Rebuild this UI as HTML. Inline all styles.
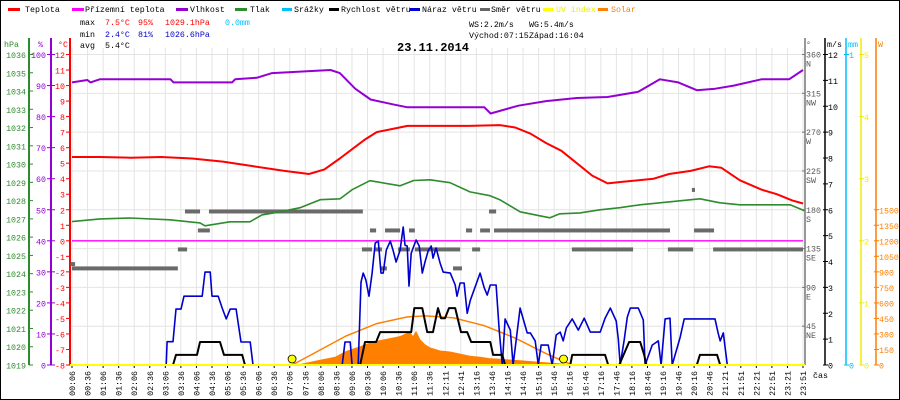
<!DOCTYPE html>
<html><head><meta charset="utf-8"><style>
html,body{margin:0;padding:0;background:#fff}
svg{display:block;font-family:"Liberation Mono","DejaVu Sans Mono",monospace}
</style></head><body>
<svg id="c" width="900" height="400" viewBox="0 0 900 400">
<rect x="0.5" y="0.5" width="899" height="399" fill="#fff" stroke="#000"/>
<g id="grid"></g>
<g id="axes"></g>
<g id="series"></g>
<g id="hdr" font-size="8.3">
 <g>
  <g><rect x="8" y="8" width="12" height="3" fill="#f00"/><text x="25" y="12">Teplota</text></g>
  <g><rect x="72" y="8" width="12" height="3" fill="#f0f"/><text x="85" y="12">Přízemní teplota</text></g>
  <g><rect x="176" y="8" width="12" height="3" fill="#9400d3"/><text x="190" y="12">Vlhkost</text></g>
  <g><rect x="235" y="8" width="12" height="3" fill="#2e8b2e"/><text x="250" y="12">Tlak</text></g>
  <g><rect x="282" y="8" width="10" height="3" fill="#00bfff"/><text x="294" y="12">Srážky</text></g>
  <g><rect x="329" y="8" width="10" height="3" fill="#000"/><text x="341" y="12">Rychlost větru</text></g>
  <g><rect x="410" y="8" width="10" height="3" fill="#0000cd"/><text x="422" y="12">Náraz větru</text></g>
  <g><rect x="480" y="8" width="10" height="3" fill="#666"/><text x="491" y="12">Směr větru</text></g>
  <g><rect x="543" y="8" width="10" height="3" fill="#ff0"/><text x="556" y="12" fill="#ee0">UV index</text></g>
  <g><rect x="598" y="8" width="10" height="3" fill="#ff7f00"/><text x="611" y="12" fill="#ff7f00">Solar</text></g>
 </g>
 <g>
  <text x="80" y="25">max</text><text x="105" y="25" fill="#f00">7.5°C</text><text x="138" y="25" fill="#f00">95%</text><text x="165" y="25" fill="#f00">1029.1hPa</text><text x="225" y="25" fill="#00bfff">0.0mm</text>
  <text x="80" y="37">min</text><text x="105" y="37" fill="#00c">2.4°C</text><text x="138" y="37" fill="#00c">81%</text><text x="165" y="37" fill="#00c">1026.6hPa</text>
  <text x="80" y="48">avg</text><text x="105" y="48">5.4°C</text>
  <text x="469" y="27">WS:2.2m/s</text><text x="529" y="27">WG:5.4m/s</text>
  <text x="469" y="38">Východ:07:15</text><text x="529" y="38">Západ:16:04</text>
 </g>
 <text x="397" y="51" font-size="12" font-weight="bold">23.11.2014</text>
 <text x="813" y="378">čas</text>
</g>
</svg>
<script>
// ---- data (time in hours) ----
const timeLabels=["00:06","00:36","01:06","01:36","02:06","02:36","03:06","03:36","04:06","04:36","05:06","05:36","06:06","06:36","07:06","07:36","08:06","08:36","09:06","09:36","10:06","10:36","11:06","11:36","12:11","12:41","13:16","13:46","14:16","14:46","15:16","15:46","16:16","16:46","17:16","17:46","18:16","18:46","19:16","19:46","20:16","20:46","21:21","21:51","22:21","22:51","23:21","23:51"];
const tempT=[0.1,1,2,3,4,5,6,7,7.8,8.3,8.8,9.2,9.6,10,10.5,11,12,13,14,14.5,15,15.5,16,16.5,17,17.5,18,18.5,19,19.5,20.2,20.8,21.2,21.8,22.5,23,23.5,23.85];
const tempV=[5.4,5.4,5.35,5.4,5.3,5.1,4.8,4.5,4.3,4.6,5.3,5.9,6.5,7.0,7.2,7.4,7.4,7.4,7.45,7.3,6.9,6.3,5.8,5.0,4.2,3.7,3.8,3.9,4.0,4.3,4.5,4.8,4.7,3.9,3.3,3.0,2.6,2.4];
const dewT=[0.1,23.85];
const dewV=[0,0];
const humT=[0.1,0.6,0.7,1.0,3.3,3.4,5.3,5.4,6.1,6.6,8.5,8.8,9.3,9.8,10.5,11,13.5,13.7,14.6,15.5,16.5,17.5,18.5,19.2,19.8,20.4,21.0,21.6,22.5,23.4,23.85];
const humV=[91,91.8,91,92,92,91,91,92,92.5,94,95,94,89,85.5,84,83,83,81,83.5,85,86,86.3,88,92,91,88.5,89,90,92,92,95];
const presT=[0.1,1.01,1.98,3.28,4.26,4.42,5.23,5.88,6.27,6.86,7.51,8.16,8.81,9.2,9.78,10.76,11.2,11.73,12.38,13.03,13.68,14.0,14.66,15.3,15.63,15.95,16.6,17.25,17.9,18.55,19.2,20.5,21.15,21.8,22.78,23.43,23.9];
const presV=[1026.85,1027.0,1027.05,1026.95,1026.78,1026.62,1026.84,1026.84,1027.22,1027.39,1027.61,1028.05,1028.1,1028.6,1029.09,1028.81,1029.1,1029.14,1028.98,1028.48,1028.27,1028.05,1027.39,1027.17,1027.06,1027.28,1027.33,1027.5,1027.61,1027.77,1027.88,1028.1,1027.88,1027.77,1027.77,1027.77,1027.44];
const dirStart=[0.05,0.1,3.54,3.77,4.55,4.19,9.52,9.94,10.69,11.24,13.1,9.78,10.27,11.05,12.9,13.36,13.81,10.11,12.48,13.65,16.41,18.29,20.31,16.34,19.46,20.93,20.24];
const dirEnd=[0.2,3.54,3.84,4.26,9.55,4.58,9.85,10.17,11.08,12.71,13.36,9.98,10.76,11.24,13.1,13.68,16.41,10.33,12.77,13.88,18.29,19.53,20.96,18.33,20.28,23.85,20.34];
const dirV=[117,112,134,178,178,156,134,134,134,134,134,156,156,156,156,156,156,112,112,178,156,156,156,134,134,134,203];
const gustT=[0.1,3.16,3.19,3.38,3.48,3.64,3.74,4.33,4.42,4.59,4.65,4.85,4.98,5.11,5.24,5.43,5.59,5.89,5.98,8.88,8.97,9.14,9.2,9.4,9.49,9.56,9.65,9.75,9.85,9.95,10.05,10.14,10.21,10.31,10.44,10.53,10.63,10.76,10.86,10.92,10.99,11.05,11.12,11.28,11.38,11.48,11.57,11.67,11.77,11.83,11.93,12.06,12.16,12.39,12.55,12.61,12.71,12.84,12.94,13.04,13.36,13.49,13.59,13.69,13.88,13.98,14.08,14.17,14.34,14.43,14.66,14.89,14.99,15.15,15.25,15.34,15.57,15.7,15.83,15.96,16.06,16.16,16.35,16.55,16.74,16.94,17.26,17.42,17.59,17.78,17.85,17.91,18.04,18.14,18.24,18.5,18.66,18.72,18.95,19.15,19.24,19.37,19.53,19.6,19.86,19.99,20.99,21.09,21.16,21.26,21.39,23.85];
const gustV=[0,0,0.9,0.9,2.16,2.16,2.66,2.66,3.59,3.59,2.66,2.66,2.2,1.78,2.16,2.16,0.89,0.89,0,0,0.89,0.89,0,0,3.2,3.55,3.28,2.66,3.55,4.71,4.79,3.55,3.55,4.44,4.79,4.44,3.98,4.44,5.33,4.63,4.6,3.05,4.32,4.83,4.6,3.55,3.98,4.4,4.6,4.13,4.52,3.94,3.59,3.55,3.09,2.66,3.17,3.17,2.0,2.5,3.55,3.0,2.7,3.09,3.09,1.35,0,1.78,1.35,0,2.2,1.24,1.24,0.93,0,0.77,0.77,0,1.16,1.27,0.93,1.43,1.78,1.35,1.81,1.27,1.27,1.81,2.2,1.7,1.0,0,0.97,1.85,2.2,2.2,1.74,0,0.77,0.93,0,1.78,1.81,0,1.08,1.78,1.78,1.24,0.93,1.24,0,0];
const windT=[0.1,3.38,3.48,4.16,4.26,4.91,5.04,5.63,5.72,9.46,9.62,9.98,10.11,11.12,11.22,11.48,11.64,11.83,11.99,12.09,12.22,12.35,12.55,12.74,12.94,13.07,13.36,13.69,13.78,14.08,14.17,16.29,16.35,17.42,17.52,17.88,18.2,18.56,18.69,18.76,20.4,20.5,21.06,21.16,23.85];
const windV=[0,0,0.39,0.39,0.89,0.89,0.39,0.39,0,0,0.89,0.89,1.27,1.27,2.2,2.2,1.27,1.27,2.2,1.81,1.81,2.2,2.2,1.27,1.27,0.89,0.89,0.89,0.39,0.39,0,0,0.39,0.39,0,0,0.89,0.89,0.39,0,0,0.39,0.39,0,0];
const solarT=[7.25,7.51,8.16,8.65,8.97,9.14,9.46,9.62,9.95,10.27,10.6,10.76,10.92,11.08,11.18,11.28,11.41,11.57,11.73,12.06,12.38,12.71,13.03,13.36,13.68,14.01,14.66,15.31,15.96,16.29,16.45];
const solarV=[0,10,50,80,130,150,180,200,230,250,270,280,300,320,280,330,250,200,170,140,130,110,90,80,65,60,45,30,15,5,0];
const solarMaxT=[7.25,8,9,10,11,11.6,12.5,13.5,14.5,15.5,16.35];
const solarMaxV=[0,120,280,400,465,474,455,380,260,110,0];
const sunEvents=[7.25,16.07];
const tempTicks=[12,11,10,9,8,7,6,5,4,3,2,1,0,-1,-2,-3,-4,-5,-6,-7,-8];
const humTicks=[100,90,80,70,60,50,40,30,20,10,0];
const presTicks=[1036,1035,1034,1033,1032,1031,1030,1029,1028,1027,1026,1025,1024,1023,1022,1021,1020,1019];
const dirTicks=[360,315,270,225,180,135,90,45];
const dirNames=["N","NW","W","SW","S","SE","E","NE"];
const wsTicks=[12,11,10,9,8,7,6,5,4,3,2,1,0];
const uvTicks=[5,4,3,2,1,0];
const wTicks=[1500,1350,1200,1050,900,750,600,450,300,150,0];

// ---- scales ----
const X0=72,X1=803,Y0=365,YT=54.5;
const FS=8.3;
const xs=h=>X0+(h-0.1)*(X1-X0)/23.75;
const yTemp=v=>Y0-(v+8)*(Y0-YT)/20;
const yHum=v=>Y0-v*(Y0-YT)/100;
const yPres=v=>Y0-(v-1019)*(Y0-YT)/17;
const yDir=v=>Y0-v*(Y0-YT)/360;
const yWs=v=>Y0-v*(Y0-YT)/12;
const yUv=v=>Y0-v*(Y0-YT)/5;
const yW=v=>Y0-v*(Y0-YT)/3000;
const NS="http://www.w3.org/2000/svg";
function mk(tag,attrs,parent){const e=document.createElementNS(NS,tag);for(const k in attrs)e.setAttribute(k,attrs[k]);parent.appendChild(e);return e;}
const G=document.getElementById('grid'),A=document.getElementById('axes'),S=document.getElementById('series');

timeLabels.forEach((l,i)=>{const x=X0+i*(X1-X0)/47;
 const gl=mk('line',{x1:x,x2:x,y1:48,y2:Y0,stroke:'#e4e4e4'},G);
 
 
 const tk=mk('line',{x1:x,x2:x,y1:Y0,y2:Y0+3,stroke:'#000'},A);
 
 
 const t=mk('text',{x:0,y:0,'font-size':FS,'text-anchor':'end',transform:`translate(${x+3},371) rotate(-90)`},A);
 t.textContent=l;
 
 
});
dirTicks.forEach(d=>{const y=yDir(d);
 const gl=mk('line',{x1:70,x2:805,y1:y,y2:y,stroke:'#e4e4e4'},G);
 
 
});

function vaxis(x,col,ticks,yf,lx,name,tickL,tickR){
 const ln=mk('line',{x1:x,x2:x,y1:38,y2:Y0,stroke:col,'stroke-width':2},A);
 
 
 ticks.forEach(v=>{const y=yf(v);
  mk('line',{x1:x-tickL,x2:x+tickR,y1:y,y2:y,stroke:col},A);
  const t=mk('text',{x:lx,y:y+3.5,'font-size':FS,'text-anchor':'end',fill:col},A);
  t.textContent=v;
  
  
 });
}
vaxis(29,'#2e8b2e',presTicks,yPres,26,'pressure',0,4);
vaxis(51,'#9400d3',humTicks,yHum,46,'humidity',4,4);
vaxis(70,'#f00',tempTicks,yTemp,65,'temperature',4,0);
[[4,'hPa','#2e8b2e'],[38,'%','#9400d3'],[58,'°C','#f00']].forEach(([x,s,c])=>{const t=mk('text',{x:x,y:47,'font-size':FS,fill:c},A);t.textContent=s;
 
 });

const dl=mk('line',{x1:805,x2:805,y1:38,y2:Y0,stroke:'#777','stroke-width':1.5},A);


dirTicks.forEach((d,i)=>{const y=yDir(d);
 mk('line',{x1:802,x2:805,y1:y,y2:y,stroke:'#777'},A);
 const t=mk('text',{x:806,y:y+3,'font-size':FS,fill:'#555'},A);t.textContent=d;
 
 
 const n=mk('text',{x:806,y:y+12,'font-size':FS,fill:'#555'},A);n.textContent=dirNames[i];
 
 
});
function raxis(x,col,ticks,yf,name){
 const ln=mk('line',{x1:x,x2:x,y1:38,y2:Y0,stroke:col,'stroke-width':1.5},A);
 
 
 ticks.forEach(v=>{const y=yf(v);
  mk('line',{x1:x-2,x2:x+3,y1:y,y2:y,stroke:col},A);
  const t=mk('text',{x:x+3,y:y+3.5,'font-size':FS,fill:col},A);t.textContent=v;
  
  
 });
}
raxis(825,'#000',wsTicks,yWs,'wind-speed');
raxis(846,'#00bfff',[1,0],v=>Y0-v*(Y0-YT),'rain');
raxis(861,'#eeee00',uvTicks,yUv,'uv');
raxis(876,'#ff7f00',wTicks,yW,'solar');
[[806,'°','#555'],[827,'m/s','#000'],[848,'mm','#00bfff'],[878,'W','#ff7f00']].forEach(([x,s,c])=>{const t=mk('text',{x:x,y:47,'font-size':FS,fill:c},A);t.textContent=s;
 
 });

function pts(T,V,yf){return T.map((t,i)=>xs(t).toFixed(1)+','+yf(V[i]).toFixed(1)).join(' ');}
const solarPoly=mk('polygon',{points:pts(solarT,solarV,yW),fill:'#ff8000'},S);


const solarMax=mk('polyline',{points:pts(solarMaxT,solarMaxV,yW),fill:'none',stroke:'#ff8000','stroke-width':1.5},S);


dirStart.forEach((s,i)=>{const y=yDir(dirV[i]);
 const r=mk('rect',{x:xs(s),y:y-2,width:Math.max(2,xs(dirEnd[i])-xs(s)),height:4,fill:'#6a6a6a'},S);
 
 
});
function line(T,V,yf,col,w,name){const p=mk('polyline',{points:pts(T,V,yf),fill:'none',stroke:col,'stroke-width':w,'stroke-linejoin':'round'},S);
 
 }
line(dewT,dewV,yTemp,'#f0f',1.3,'dew-point-line');
line(presT,presV,yPres,'#2e8b2e',1.6,'pressure-line');
line(humT,humV,yHum,'#9400d3',2,'humidity-line');
line(tempT,tempV,yTemp,'#f00',2,'temperature-line');
line(gustT,gustV,yWs,'#0000cd',1.6,'wind-gust-line');
line(windT,windV,yWs,'#000',2,'wind-speed-line');
const uv=mk('line',{x1:70,x2:805,y1:Y0,y2:Y0,stroke:'#ff0','stroke-width':2},S);


sunEvents.forEach(h=>{const c=mk('circle',{cx:xs(h),cy:359,r:4,fill:'#ff0',stroke:'#000','stroke-width':0.8},S);
 
 });
</script>
</body></html>
